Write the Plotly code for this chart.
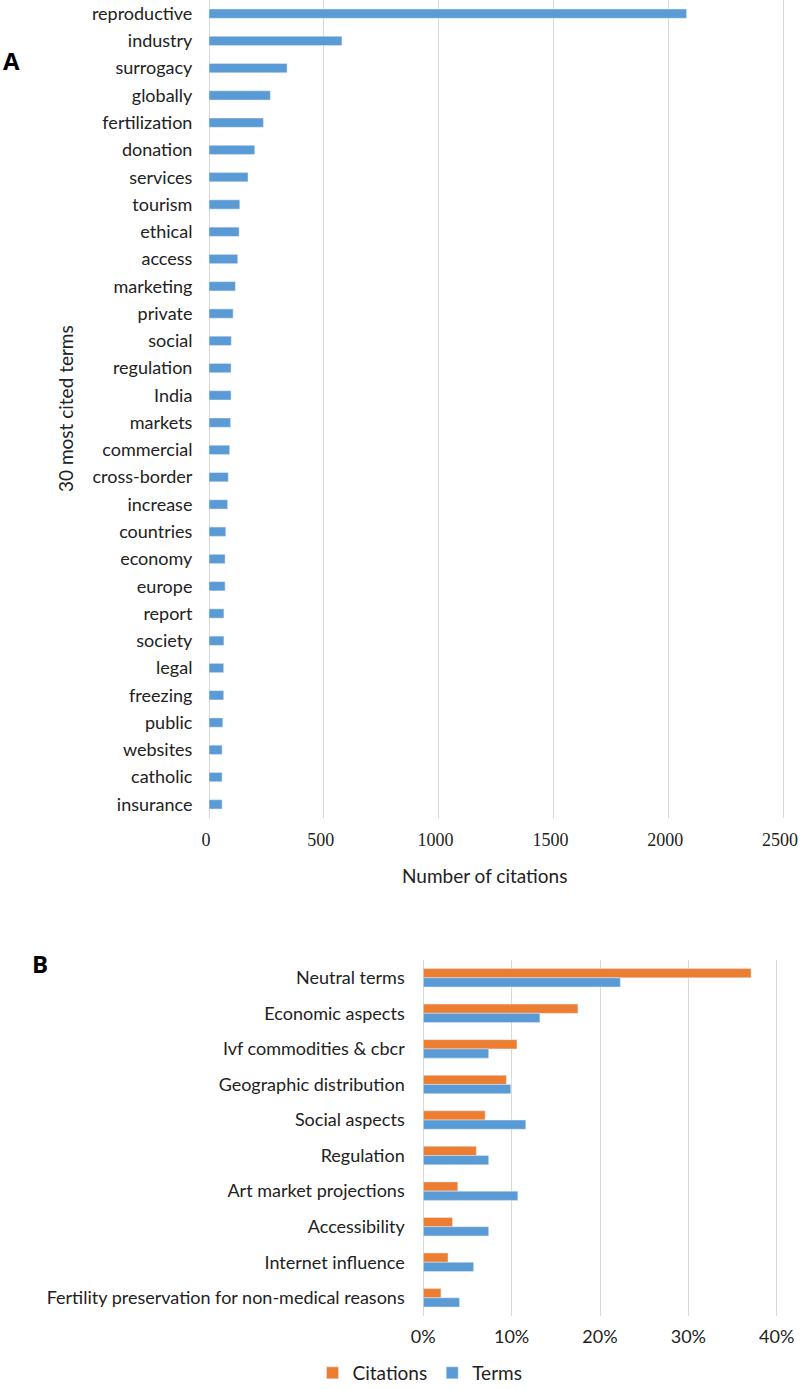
import plotly.graph_objects as go

# ---- Panel A data ----
terms = ["reproductive", "industry", "surrogacy", "globally", "fertilization", "donation",
         "services", "tourism", "ethical", "access", "marketing", "private", "social",
         "regulation", "India", "markets", "commercial", "cross-border", "increase",
         "countries", "economy", "europe", "report", "society", "legal", "freezing",
         "public", "websites", "catholic", "insurance"]
citations_count = [2080, 579, 340, 267, 237, 199, 170, 134, 131, 125, 115, 105, 97,
                   96, 96, 94, 90, 84, 81, 73, 70, 70, 65, 65, 64, 64, 60, 57, 57, 57]
a_ticks = [0, 500, 1000, 1500, 2000, 2500]

# ---- Panel B data ----
categories = ["Neutral terms", "Economic aspects", "Ivf commodities & cbcr",
              "Geographic distribution", "Social aspects", "Regulation",
              "Art market projections", "Accessibility", "Internet influence",
              "Fertility preservation for non-medical reasons"]
citations_pct = [0.371, 0.175, 0.106, 0.094, 0.070, 0.060, 0.039, 0.033, 0.028, 0.020]
terms_pct = [0.223, 0.132, 0.074, 0.099, 0.116, 0.074, 0.107, 0.074, 0.057, 0.041]
b_ticks = [0, 0.1, 0.2, 0.3, 0.4]
b_ticklabels = ["0%", "10%", "20%", "30%", "40%"]

BLUE = "#5B9BD5"
ORANGE = "#ED7D31"
GRID = "#D9D9D9"
SANS = "Lato, Carlito, 'Open Sans', sans-serif"
W, H = 800, 1389

fig = go.Figure()

fig.add_trace(go.Bar(
    x=citations_count, y=terms, orientation="h", marker_color=BLUE,
    width=0.34, offset=-0.17, xaxis="x", yaxis="y", showlegend=False,
))

fig.add_trace(go.Bar(
    x=citations_pct, y=categories, orientation="h", marker_color=ORANGE,
    name="Citations", width=0.26, offset=-0.26, xaxis="x2", yaxis="y2",
))
fig.add_trace(go.Bar(
    x=terms_pct, y=categories, orientation="h", marker_color=BLUE,
    name="Terms", width=0.26, offset=0.0, xaxis="x2", yaxis="y2",
))

def px_x(p):
    return p / W

def px_y(p):
    return 1 - p / H

# extend x ranges a little so the last gridline is drawn
A_X0, A_X1, A_MAX = 209, 783, 2500
a_ext = 2512
a_right = A_X0 + (A_X1 - A_X0) * a_ext / A_MAX
B_X0, B_X1, B_MAX = 423.3, 776.7, 0.4
b_ext = 0.402
b_right = B_X0 + (B_X1 - B_X0) * b_ext / B_MAX

fig.update_layout(
    width=W, height=H,
    margin=dict(l=0, r=0, t=0, b=0, autoexpand=False),
    paper_bgcolor="white", plot_bgcolor="white",
    barmode="overlay",
    font=dict(family=SANS, size=18, color="#222222"),
    xaxis=dict(
        domain=[px_x(A_X0), px_x(a_right)], range=[0, a_ext], anchor="y",
        automargin=False, ticklabeloverflow="allow", ticklabelshift=-3,
        tickvals=a_ticks, ticktext=[str(v) for v in a_ticks],
        showgrid=True, gridcolor=GRID, gridwidth=1,
        zeroline=True, zerolinecolor=GRID, zerolinewidth=1,
        showline=False,
        ticks="outside", ticklen=5, tickcolor="rgba(0,0,0,0)",
        tickfont=dict(family="'Liberation Serif', 'Times New Roman', serif", size=18, color="#222222"),
    ),
    yaxis=dict(
        domain=[px_y(818), 1.0], anchor="x",
        automargin=False, ticklabeloverflow="allow",
        categoryorder="array", categoryarray=terms,
        range=[len(terms) - 0.5, -0.5],
        showgrid=False, zeroline=False, showline=False,
        ticks="outside", ticklen=12, tickcolor="rgba(0,0,0,0)",
        tickfont=dict(family=SANS, size=18, color="#222222"),
    ),
    xaxis2=dict(
        domain=[px_x(B_X0), px_x(b_right)], range=[0, b_ext], anchor="y2",
        automargin=False, ticklabeloverflow="allow",
        tickvals=b_ticks, ticktext=b_ticklabels,
        showgrid=True, gridcolor=GRID, gridwidth=1,
        zeroline=True, zerolinecolor=GRID, zerolinewidth=1,
        showline=False,
        ticks="outside", ticklen=5, tickcolor="rgba(0,0,0,0)",
        tickfont=dict(family=SANS, size=18, color="#222222"),
    ),
    yaxis2=dict(
        domain=[px_y(1315.6), px_y(960)], anchor="x2",
        automargin=False,
        categoryorder="array", categoryarray=categories, autorange="reversed",
        showgrid=False, zeroline=False, showline=False,
        ticks="outside", ticklen=14, tickcolor="rgba(0,0,0,0)",
        tickfont=dict(family=SANS, size=18, color="#222222"),
    ),
    legend=dict(
        orientation="h", x=px_x(420), xanchor="center", y=px_y(1373), yanchor="middle",
        font=dict(family=SANS, size=19, color="#222222"),
        traceorder="normal", itemwidth=30,
    ),
    annotations=[
        dict(text="<b>A</b>", x=px_x(11), y=px_y(60), xref="paper", yref="paper",
             xanchor="center", yanchor="middle",
             showarrow=False, font=dict(family="'Open Sans', sans-serif", size=24, color="black")),
        dict(text="<b>B</b>", x=px_x(40), y=px_y(963), xref="paper", yref="paper",
             xanchor="center", yanchor="middle",
             showarrow=False, font=dict(family="'Open Sans', sans-serif", size=24, color="black")),
        dict(text="30 most cited terms", x=px_x(66), y=px_y(409), xref="paper", yref="paper",
             xanchor="center", yanchor="middle",
             textangle=-90, showarrow=False, font=dict(family=SANS, size=19, color="#222222")),
        dict(text="Number of citations", x=px_x(485), y=px_y(875), xref="paper", yref="paper",
             xanchor="center", yanchor="middle",
             showarrow=False, font=dict(family=SANS, size=19, color="#222222")),
    ],
)

fig.write_html(
    "out.html",
    config={"displayModeBar": False},
    post_script="document.body.style.margin='0px';document.body.style.overflow='hidden';",
)
